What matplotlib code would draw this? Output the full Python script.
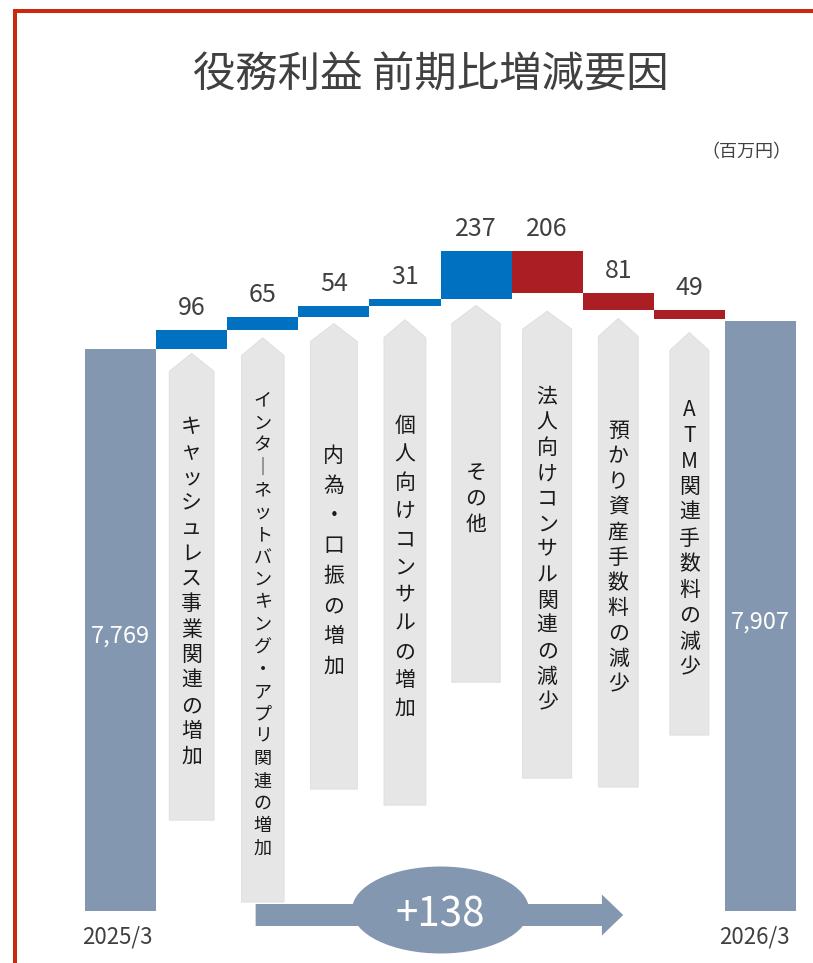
import numpy as np
import matplotlib.pyplot as plt
from matplotlib.patches import Polygon, Ellipse
from matplotlib.lines import Line2D

plt.rcParams['font.family'] = ['Noto Sans CJK JP', 'DejaVu Sans']

# データ（百万円）
start_label = '2025/3'
end_label = '2026/3'
start_value = 7769
end_value = 7907
factors = ['キャッシュレス事業関連の増加',
           'インターネットバンキング・アプリ関連の増加',
           '内為・口振の増加',
           '個人向けコンサルの増加',
           'その他',
           '法人向けコンサル関連の減少',
           '預かり資産手数料の減少',
           'ATM関連手数料の減少']
changes = [96, 65, 54, 31, 237, -206, -81, -49]

# 見た目の調整（矢印の位置・文字の間隔）
arrow_gap = [20, 39, 34, 69, 30, 89, 44, 64]
arrow_bottom = [5448, 5044, 5601, 5522, 6128, 5655, 5611, 5867]
arrow_width = [0.63, 0.60, 0.66, 0.59, 0.68, 0.69, 0.56, 0.55]
char_pitch = [25.4, 22.4, 30, 28.2, 26, 25.5, 25.3, 25.7]   # px
char_size = [15, 13, 15, 15, 15, 15, 15, 15]

C_BASE = '#8497B0'
C_UP = '#0070C0'
C_DOWN = '#AB1F24'
C_ARROW = '#E6E6E6'
C_TEXT = '#404040'

W, H = 813, 963
fig = plt.figure(figsize=(W / 100, H / 100), dpi=100)
ax = fig.add_axes([85 / W, (H - 911) / H, 711 / W, 710 / H])
ax.set_xlim(-0.5, 9.5)
ax.set_ylim(5000, 8500)
ax.axis('off')
upp = 3500 / 710  # 1pxあたりの値

# 両端の棒
ax.bar([0, 9], [start_value - 5000, end_value - 5000], bottom=5000,
       width=1.0, color=C_BASE, linewidth=0)
ax.text(0, 5000 + (start_value - 5000) * 0.49, f'{start_value:,}', ha='center', va='center',
        color='white', fontsize=17)
ax.text(9, 5000 + (end_value - 5000) * 0.49, f'{end_value:,}', ha='center', va='center',
        color='white', fontsize=17)
for x, lab, dx in [(0, start_label, -0.05), (9, end_label, -0.08)]:
    ax.text(x + dx, 5000 - 26 * upp, lab, ha='center', va='center', color=C_TEXT, fontsize=16)

# 増減の棒
running = start_value
for i, (name, d) in enumerate(zip(factors, changes)):
    x = i + 1
    lo = running if d > 0 else running + d
    hi = lo + abs(d)
    ax.bar(x, abs(d), bottom=lo, width=1.0, color=C_UP if d > 0 else C_DOWN, linewidth=0)
    ax.text(x, hi + 22 * upp, f'{abs(d)}', ha='center', va='center', color=C_TEXT, fontsize=18)
    running += d

    # 説明矢印（上向き五角形）
    tip = lo - arrow_gap[i]
    shoulder = tip - 18 * upp
    bot = arrow_bottom[i]
    hw = arrow_width[i] / 2
    poly = Polygon([(x - hw, bot), (x - hw, shoulder), (x, tip), (x + hw, shoulder),
                    (x + hw, bot)], closed=True, facecolor=C_ARROW,
                   edgecolor='#DDDDDD', linewidth=0.6, clip_on=False)
    ax.add_patch(poly)

    # 縦書きテキスト
    n = len(name)
    pitch = char_pitch[i] * upp
    yc = (shoulder + bot) / 2 + 4 * upp
    for k, ch in enumerate(name):
        yy = yc + (n - 1) / 2 * pitch - k * pitch
        if ch == 'ー':
            ax.text(x, yy, '｜', ha='center', va='center', fontsize=char_size[i],
                    color='#1A1A1A')
        else:
            ax.text(x, yy, ch, ha='center', va='center', fontsize=char_size[i],
                    color='#1A1A1A')

# 下部の矢印と合計
yb = 5000 - 4 * upp
shaft = 11 * upp
head = 20.5 * upp
arrow = Polygon([(1.9, yb - shaft), (6.77, yb - shaft), (6.77, yb - head), (7.07, yb),
                 (6.77, yb + head), (6.77, yb + shaft), (1.9, yb + shaft)],
                closed=True, facecolor=C_BASE, linewidth=0, clip_on=False)
ax.add_patch(arrow)
ax.add_patch(Ellipse((4.5, 5000 + 1 * upp), 2.49, 87 * upp, facecolor=C_BASE,
                     linewidth=0, clip_on=False))
diff = end_value - start_value
ax.text(4.5, 5000 - 4 * upp, f'{diff:+d}', ha='center', va='center', color='white', fontsize=29)

# タイトル・単位
fig.text(431 / W, 1 - 76 / H, '役務利益 前期比増減要因', ha='center', va='center',
         fontsize=30.5, color=C_TEXT)
fig.text(746 / W, 1 - 152 / H, '（百万円）', ha='center', va='center',
         fontsize=13, color=C_TEXT)

# 赤い枠線
fig.add_artist(Line2D([15 / W, 15 / W, 1.0], [0.0, 1 - 11 / H, 1 - 11 / H],
                      transform=fig.transFigure, color='#C8290F', linewidth=2.9,
                      solid_joinstyle='miter'))

fig.savefig('out.png', dpi=100)
